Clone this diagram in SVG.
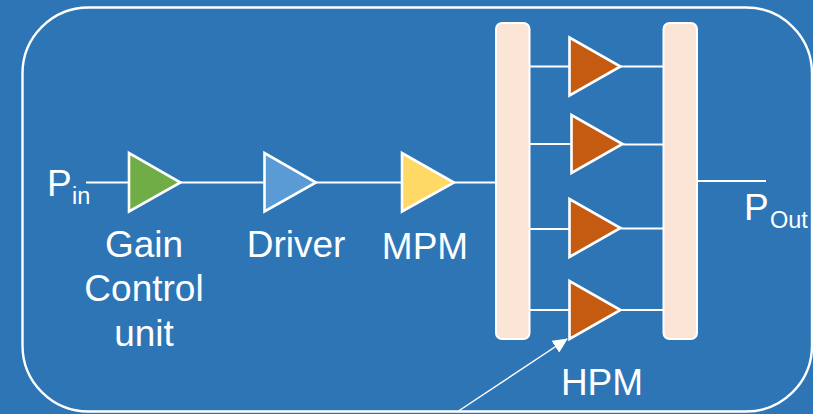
<svg xmlns="http://www.w3.org/2000/svg" width="813" height="414" viewBox="0 0 813 414">
<style>
text{font-family:"Liberation Sans",Arial,sans-serif;fill:#fff;font-size:37px}
.sub{font-size:23.500px}
.c{text-anchor:middle}
.w{stroke:#fff;stroke-width:2;fill:none}
.t{stroke:#fff;stroke-width:2.600;stroke-linejoin:miter}
.h{fill:#C55A11}
.b{fill:#FBE5D6;stroke:#fff;stroke-width:2}
</style>
<defs><marker id="ah" markerWidth="16" markerHeight="14" refX="14" refY="7" orient="auto" markerUnits="userSpaceOnUse"><path d="M0 0L15 7L0 14Z" fill="#fff"/></marker></defs>
<rect width="813" height="414" fill="#2E75B6"/>
<rect id="frame" x="22.500" y="7.500" width="789.500" height="404" rx="66" fill="none" stroke="#fff" stroke-width="2.400"/>
<g id="connectors">
<path class="w" d="M86 182.500H129M180 182.500H264M316 182.500H402M454 182.500H496"/>
<path class="w" d="M530 66.500H569M621 66.500H663M530 144H571M623 144.500H663M530 229H571M621 228.500H663M530 310H571M621 310H663M697 181H766"/>
<path d="M457 412L567 339" stroke="#fff" stroke-width="1.500" fill="none" marker-end="url(#ah)"/>
</g>
<g id="node-gain"><path class="t" fill="#70AD47" d="M129 153V211.500L180.500 182.500Z"/><text class="c" x="144" y="257">Gain</text><text class="c" x="144" y="301">Control</text><text class="c" x="144" y="346">unit</text></g>
<g id="node-driver"><path class="t" fill="#5B9BD5" d="M264.500 153V211.500L316 182.500Z"/><text class="c" x="296" y="257">Driver</text></g>
<g id="node-mpm"><path class="t" fill="#FFD966" d="M402 153V211.500L454 182.500Z"/><text class="c" x="425" y="259">MPM</text></g>
<g id="node-splitter"><rect class="b" x="496" y="23" width="33.500" height="316" rx="6"/></g>
<g id="node-combiner"><rect class="b" x="663.500" y="23" width="33.500" height="316" rx="6"/></g>
<g id="node-hpm1"><path class="t h" d="M569.500 37.500V95.500L620.500 66.500Z"/></g>
<g id="node-hpm2"><path class="t h" d="M571.500 115V173L622.500 144Z"/></g>
<g id="node-hpm3"><path class="t h" d="M569.500 199V257L620.500 228Z"/></g>
<g id="node-hpm4"><path class="t h" d="M569.500 281V339L620.500 310Z"/><text class="c" x="602" y="395">HPM</text></g>
<g id="label-pin"><text x="47" y="196">P</text><text class="sub" x="72" y="204">in</text></g>
<g id="label-pout"><text x="744" y="220">P</text><text class="sub" x="770" y="228">Out</text></g>
</svg>
